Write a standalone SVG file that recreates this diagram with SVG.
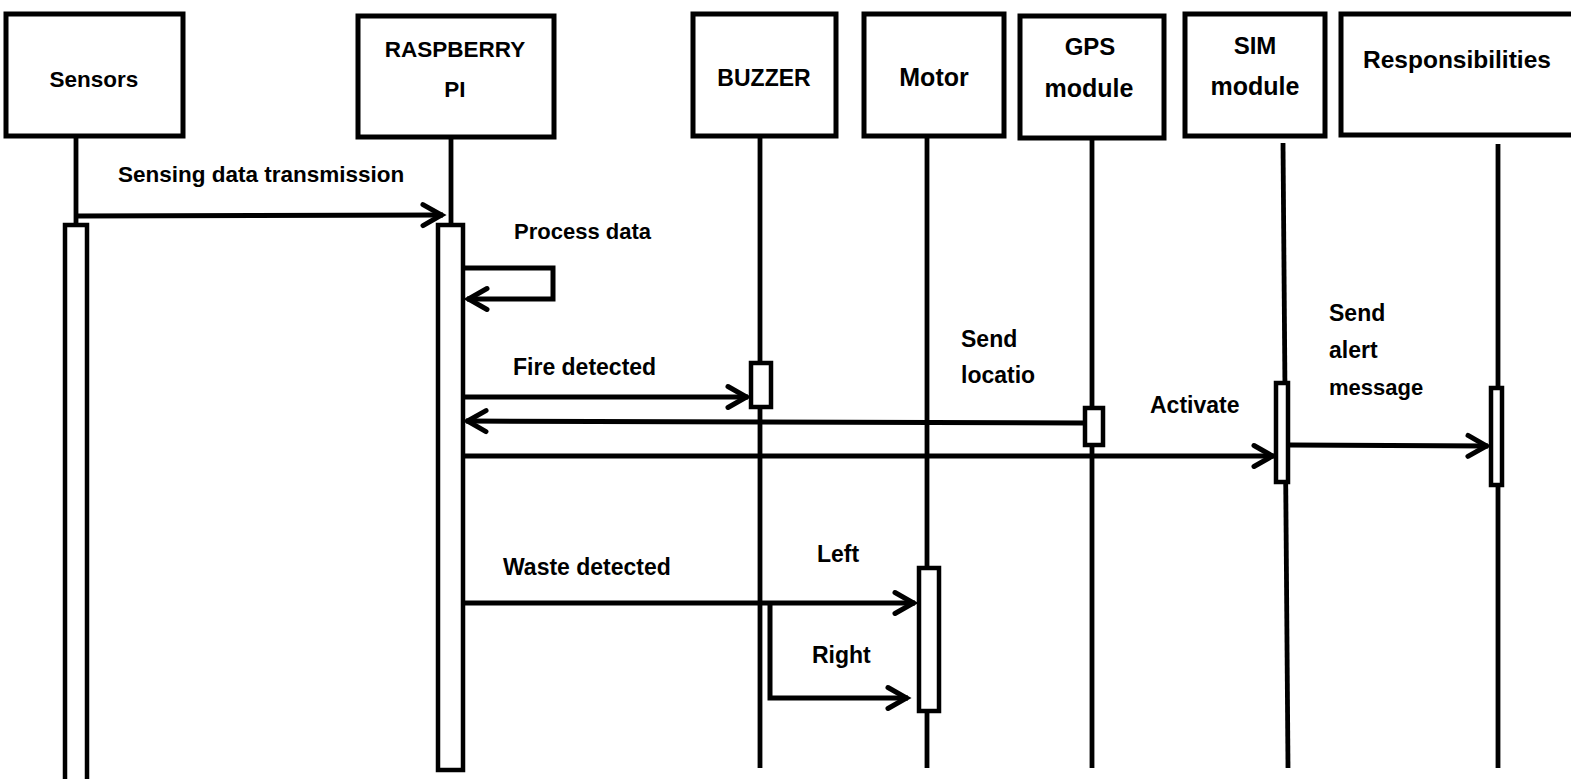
<svg xmlns="http://www.w3.org/2000/svg" width="1571" height="779" viewBox="0 0 1571 779">
<style>
.box{fill:#fff;stroke:#000;stroke-width:5}
.life{stroke:#000;stroke-width:4.8;fill:none}
.act{fill:#fff;stroke:#000;stroke-width:4.5}
.msg{stroke:#000;stroke-width:5;fill:none}
text{font-family:"Liberation Sans",Arial,sans-serif;font-weight:bold;font-size:23px;fill:#000}
.c{text-anchor:middle}
</style>
<defs>
<marker id="ah" markerUnits="userSpaceOnUse" viewBox="-26 -16 30 32" markerWidth="30" markerHeight="32" refX="0" refY="0" orient="auto" overflow="visible">
<path d="M-20,-10.5 L-1.5,0 L-20,10.5" fill="none" stroke="#000" stroke-width="5" stroke-linecap="round"/>
</marker>
</defs>

<g id="lifelines">
<line class="life" x1="76" y1="138" x2="76" y2="224"/>
<line class="life" x1="451" y1="139" x2="451" y2="224"/>
<line class="life" x1="760" y1="138" x2="760" y2="768"/>
<line class="life" x1="927" y1="138" x2="927" y2="768"/>
<line class="life" x1="1092" y1="140" x2="1092" y2="768"/>
<line class="life" x1="1283" y1="143" x2="1288" y2="768"/>
<line class="life" x1="1498" y1="144" x2="1498" y2="768"/>
</g>

<g id="node-sensors">
<rect class="box" x="6" y="14" width="177" height="122"/>
<text class="c" x="94" y="87" style="font-size:22.5px">Sensors</text>
<rect class="act" x="65" y="225" width="22" height="570"/>
</g>

<g id="node-raspberry">
<rect class="box" x="358" y="16" width="196" height="121"/>
<text class="c" x="455" y="57" style="font-size:22.5px">RASPBERRY</text>
<text class="c" x="455" y="97" style="font-size:22.5px">PI</text>
<rect class="act" x="438" y="225" width="25" height="545"/>
</g>

<g id="node-buzzer">
<rect class="box" x="693" y="14" width="143" height="122"/>
<text class="c" x="764" y="86">BUZZER</text>
<rect class="act" x="751" y="363" width="20" height="44"/>
</g>

<g id="node-motor">
<rect class="box" x="864" y="14" width="140" height="122"/>
<text class="c" x="934" y="86" style="font-size:25px">Motor</text>
<rect class="act" x="919" y="568" width="20" height="143"/>
</g>

<g id="node-gps">
<rect class="box" x="1020" y="16" width="144" height="122"/>
<text class="c" x="1090" y="55" style="font-size:24px">GPS</text>
<text class="c" x="1089" y="97" style="font-size:25px">module</text>
<rect class="act" x="1085" y="408" width="18" height="37"/>
</g>

<g id="node-sim">
<rect class="box" x="1185" y="14" width="140" height="122"/>
<text class="c" x="1255" y="54" style="font-size:24px">SIM</text>
<text class="c" x="1255" y="95" style="font-size:25px">module</text>
<rect class="act" x="1276" y="383" width="12" height="99"/>
</g>

<g id="node-responsibilities">
<rect class="box" x="1341" y="14" width="260" height="121"/>
<text x="1363" y="68" style="font-size:24.5px">Responsibilities</text>
<rect class="act" x="1491" y="388" width="11" height="97"/>
</g>

<g id="connectors">
<line class="msg" x1="78" y1="216" x2="443" y2="215" marker-end="url(#ah)"/>
<path class="msg" d="M465,268 H553 V299 H467" marker-end="url(#ah)"/>
<line class="msg" x1="465" y1="397" x2="748" y2="397" marker-end="url(#ah)"/>
<line class="msg" x1="1084" y1="423" x2="466" y2="421" marker-end="url(#ah)"/>
<line class="msg" x1="465" y1="456" x2="1274" y2="456" marker-end="url(#ah)"/>
<line class="msg" x1="1290" y1="445" x2="1488" y2="446" marker-end="url(#ah)"/>
<line class="msg" x1="465" y1="603" x2="915" y2="603" marker-end="url(#ah)"/>
<path class="msg" d="M770,603 V698 H908" marker-end="url(#ah)"/>
</g>

<g id="labels">
<text x="118" y="182" style="font-size:22.5px">Sensing data transmission</text>
<text x="514" y="239" style="font-size:22px">Process data</text>
<text x="513" y="375">Fire detected</text>
<text x="961" y="347">Send</text>
<text x="961" y="383">locatio</text>
<text x="1150" y="413">Activate</text>
<text x="1329" y="321">Send</text>
<text x="1329" y="358">alert</text>
<text x="1329" y="395" style="font-size:22px">message</text>
<text x="503" y="575">Waste detected</text>
<text x="817" y="562">Left</text>
<text x="812" y="663">Right</text>
</g>
</svg>
